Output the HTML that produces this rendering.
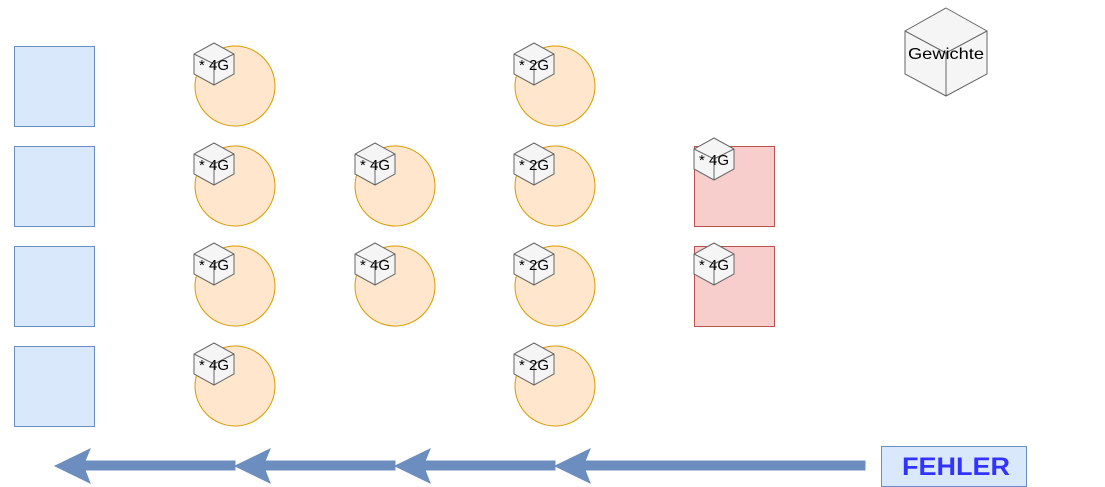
<!DOCTYPE html>
<html><head><meta charset="utf-8"><style>
html,body{margin:0;padding:0;background:#fff;width:1105px;height:487px;overflow:hidden}
svg text{font-family:"Liberation Sans",sans-serif}
</style></head><body>
<svg width="1105" height="487" xmlns="http://www.w3.org/2000/svg">
<defs>
<g id="cube">
<polygon points="20,0 40,11 40,31 20,42 0,31 0,11" fill="#f5f5f5" stroke="#666" stroke-width="1"/>
<polyline points="0,11 20,21 40,11" fill="none" stroke="#666"/>
<line x1="20" y1="21" x2="20" y2="42" stroke="#666"/>
</g>
</defs>
<g fill="#dae8fc" stroke="#6c8ebf">
<rect x="14.5" y="46.5" width="80" height="80"/>
<rect x="14.5" y="146.5" width="80" height="80"/>
<rect x="14.5" y="246.5" width="80" height="80"/>
<rect x="14.5" y="346.5" width="80" height="80"/>
</g>
<g fill="#ffe6cc" stroke="#d79b00">
<circle cx="235" cy="86" r="40"/><circle cx="235" cy="186" r="40"/><circle cx="235" cy="286" r="40"/><circle cx="235" cy="386" r="40"/>
<circle cx="395" cy="186" r="40"/><circle cx="395" cy="286" r="40"/>
<circle cx="555" cy="86" r="40"/><circle cx="555" cy="186" r="40"/><circle cx="555" cy="286" r="40"/><circle cx="555" cy="386" r="40"/>
</g>
<g fill="#f8cecc" stroke="#b85450">
<rect x="694.5" y="146.5" width="80" height="80"/>
<rect x="694.5" y="246.5" width="80" height="80"/>
</g>
<g font-size="15" fill="#000" text-anchor="middle">
<use href="#cube" x="194" y="43"/><text x="214" y="70">* 4G</text>
<use href="#cube" x="194" y="143"/><text x="214" y="170">* 4G</text>
<use href="#cube" x="194" y="243"/><text x="214" y="270">* 4G</text>
<use href="#cube" x="194" y="343"/><text x="214" y="370">* 4G</text>
<use href="#cube" x="355" y="143"/><text x="375" y="170">* 4G</text>
<use href="#cube" x="355" y="243"/><text x="375" y="270">* 4G</text>
<use href="#cube" x="514" y="43"/><text x="534" y="70">* 2G</text>
<use href="#cube" x="514" y="143"/><text x="534" y="170">* 2G</text>
<use href="#cube" x="514" y="243"/><text x="534" y="270">* 2G</text>
<use href="#cube" x="514" y="343"/><text x="534" y="370">* 2G</text>
<use href="#cube" x="694" y="138"/><text x="714" y="165">* 4G</text>
<use href="#cube" x="694" y="243"/><text x="714" y="270">* 4G</text>
</g>
<polygon points="946,8 987,31 987,74 946,96 905,74 905,31" fill="#f5f5f5" stroke="#666"/>
<polyline points="905,31 946,53 987,31" fill="none" stroke="#666"/>
<line x1="946" y1="53" x2="946" y2="96" stroke="#666"/>
<text x="946" y="59" font-size="16" text-anchor="middle" textLength="76" lengthAdjust="spacingAndGlyphs">Gewichte</text>
<g fill="#6c8ebf" stroke="#6c8ebf" stroke-width="1">
<polygon points="865,461 585,461 590,449 555,466 590,483 585,470 865,470"/>
<polygon points="555,461 425,461 430,449 395,466 430,483 425,470 555,470"/>
<polygon points="395,461 265,461 270,449 235,466 270,483 265,470 395,470"/>
<polygon points="235,461 85,461 90,449 55,466 90,483 85,470 235,470"/>
</g>
<rect x="881.5" y="446.5" width="145" height="40" fill="#dae8fc" stroke="#6c8ebf"/>
<text x="956" y="475" font-size="25" font-weight="bold" fill="#3333ff" text-anchor="middle" textLength="108" lengthAdjust="spacingAndGlyphs">FEHLER</text>
</svg>
</body></html>
